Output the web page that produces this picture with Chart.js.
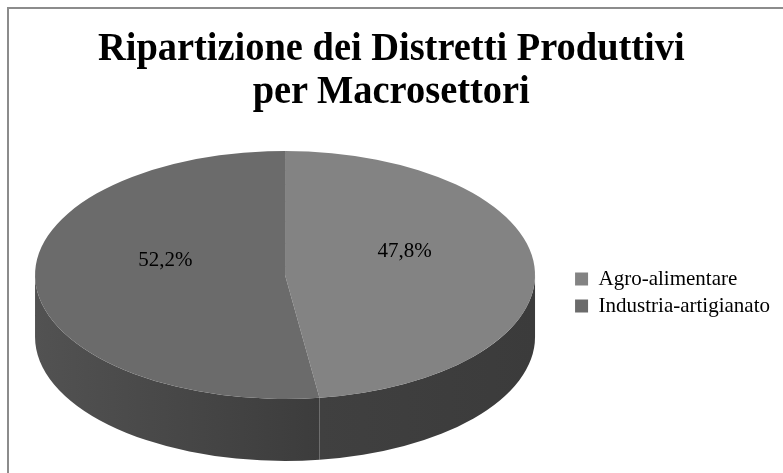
<!DOCTYPE html>
<html>
<head>
<meta charset="utf-8">
<script src="https://cdn.jsdelivr.net/npm/chart.js@4/dist/chart.umd.min.js"></script>
<style>
    html, body { margin: 0; padding: 0; background: #fff; }
    #wrap { position: relative; width: 783px; height: 473px; overflow: hidden; }
    #frame { position: absolute; left: 7px; top: 7px; width: 900px; height: 600px;
             border-left: 2px solid #8c8c8c; border-top: 2px solid #8c8c8c; }
    #title { position: absolute; left: 0; top: 25px; width: 783px; text-align: center;
             font: bold 40px "Liberation Serif", "Times New Roman", serif; line-height: 43px;
             color: #000; white-space: nowrap; }
    #title span { display: inline-block; transform-origin: center; }
    #chart { position: absolute; left: 0; top: 0; }
</style>
</head>
<body>
<div id="wrap">
    <div id="frame"></div>
    <canvas id="chart" width="783" height="473"></canvas>
    <div id="title"><span id="t1">Ripartizione dei Distretti Produttivi</span><br><span id="t2">per Macrosettori</span></div>
</div>
<script>
// --- dati ---
const categorie = ['Agro-alimentare', 'Industria-artigianato'];
const valori = [47.8, 52.2];

// --- stile ---
const coloriTop = ['#838383', '#6b6b6b'];
const coloriLato = [['#3b3b3b', '#404040'], ['#525252', '#3c3c3c']];

// titolo compresso come nell'originale
const t1 = document.getElementById('t1');
const t2 = document.getElementById('t2');
const sx = 587 / t1.offsetWidth;
t1.style.transform = 'scaleX(' + sx + ')';
t2.style.transform = 'scaleX(' + sx + ')';

const k = 0.496;       // schiacciamento verticale
const cyTop = 275;     // centro dell'ellisse superiore
const depth = 62;      // spessore della torta
const labelDy = -19;

const torta3d = {
    id: 'torta3d',
    beforeDatasetsDraw(chart) {
        const ctx = chart.ctx;
        const arcs = chart.getDatasetMeta(0).data;
        ctx.save();
        arcs.forEach(function (a, i) {
            const p = a.getProps(['x', 'startAngle', 'endAngle', 'outerRadius']);
            const a0 = Math.max(p.startAngle, 0);
            const a1 = Math.min(p.endAngle, Math.PI);
            if (a1 <= a0) return;
            const R = p.outerRadius;
            const x0 = p.x + R * Math.cos(a1), x1 = p.x + R * Math.cos(a0);
            const g = ctx.createLinearGradient(x0, 0, x1, 0);
            g.addColorStop(0, coloriLato[i][i === 0 ? 1 : 0]);
            g.addColorStop(1, coloriLato[i][i === 0 ? 0 : 1]);
            ctx.beginPath();
            ctx.ellipse(p.x, cyTop, R, R * k, 0, a0, a1);
            ctx.ellipse(p.x, cyTop + depth, R, R * k, 0, a1, a0, true);
            ctx.closePath();
            ctx.fillStyle = g;
            ctx.fill();
        });
        ctx.restore();
        const y = arcs[0].y;
        ctx.save();
        ctx.translate(0, cyTop);
        ctx.scale(1, k);
        ctx.translate(0, -y);
    },
    afterDatasetsDraw(chart) {
        const ctx = chart.ctx;
        ctx.restore();
        const arcs = chart.getDatasetMeta(0).data;
        const tot = valori.reduce((s, v) => s + v, 0);
        ctx.save();
        ctx.font = '21px "Liberation Serif", serif';
        ctx.fillStyle = '#000';
        ctx.textAlign = 'center';
        ctx.textBaseline = 'middle';
        arcs.forEach(function (a, i) {
            const p = a.getProps(['x', 'startAngle', 'endAngle', 'outerRadius']);
            const m = (p.startAngle + p.endAngle) / 2;
            const r = p.outerRadius * 0.48;
            const lx = p.x + r * Math.cos(m);
            const ly = cyTop + r * k * Math.sin(m) + labelDy;
            const txt = (valori[i] / tot * 100).toFixed(1).replace('.', ',') + '%';
            ctx.fillText(txt, lx, ly);
        });
        ctx.restore();
    }
};

new Chart(document.getElementById('chart'), {
    type: 'pie',
    data: {
        labels: categorie,
        datasets: [{
            data: valori,
            backgroundColor: coloriTop,
            borderWidth: 0,
            clip: false
        }]
    },
    options: {
        responsive: false,
        animation: false,
        radius: 250,
        layout: { padding: { left: 1, right: 3, top: 130, bottom: 18 } },
        plugins: {
            title: { display: false },
            tooltip: { enabled: false },
            legend: {
                position: 'right',
                labels: {
                    boxWidth: 13,
                    boxHeight: 13,
                    padding: 6,
                    color: '#000',
                    font: { family: '"Liberation Serif", serif', size: 21 }
                }
            }
        }
    },
    plugins: [torta3d]
});
</script>
</body>
</html>
